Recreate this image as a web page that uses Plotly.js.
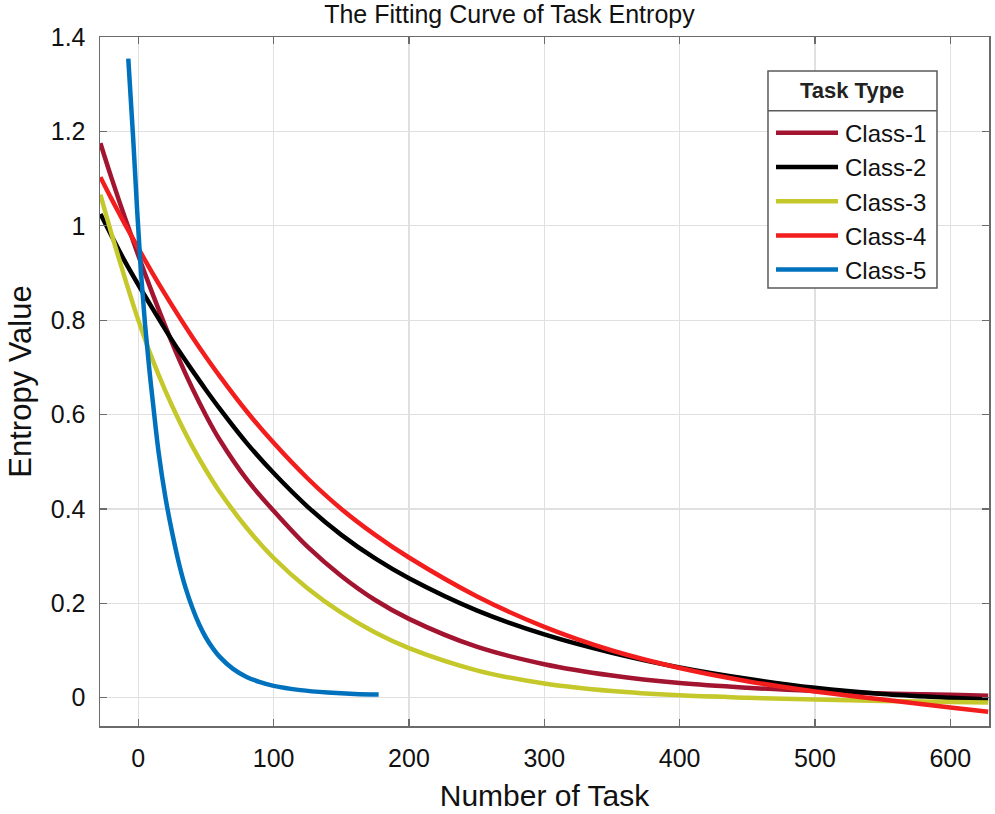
<!DOCTYPE html>
<html>
<head>
<meta charset="utf-8">
<script src="https://cdn.plot.ly/plotly-3.0.1.min.js"></script>
<style>html,body{margin:0;padding:0;background:#fff;}#chart{width:995px;height:814px;}</style>
</head>
<body>
<div id="chart"></div>
<script>
// Values
const xCommon = [-28, -20, -10, 0, 10, 20, 30, 40, 50, 60, 80, 100, 125, 150, 175, 200, 250, 300, 350, 400, 450, 500, 550, 600, 628];
const class1Y = [1.175, 1.103, 1.018, 0.937, 0.86, 0.787, 0.718, 0.655, 0.598, 0.547, 0.463, 0.396, 0.32, 0.258, 0.207, 0.167, 0.108, 0.071, 0.047, 0.031, 0.021, 0.014, 0.009, 0.006, 0.004];
const class2Y = [1.025, 0.98, 0.925, 0.875, 0.827, 0.78, 0.735, 0.693, 0.652, 0.613, 0.54, 0.476, 0.405, 0.345, 0.295, 0.253, 0.185, 0.134, 0.095, 0.064, 0.04, 0.021, 0.008, 0.0, -0.004];
const class3Y = [1.066, 0.985, 0.89, 0.80, 0.72, 0.65, 0.588, 0.532, 0.482, 0.437, 0.36, 0.296, 0.232, 0.18, 0.138, 0.105, 0.058, 0.03, 0.014, 0.005, 0.0, -0.004, -0.007, -0.009, -0.01];
const class4Y = [1.103, 1.058, 1.004, 0.952, 0.902, 0.854, 0.808, 0.764, 0.722, 0.682, 0.607, 0.54, 0.465, 0.40, 0.345, 0.297, 0.215, 0.15, 0.10, 0.063, 0.035, 0.013, -0.004, -0.021, -0.03];
const class5X = [-7.4, -4, -1, 2, 5, 8, 11, 15, 20, 25, 30, 35, 40, 45, 50, 55, 60, 70, 80, 90, 100, 120, 140, 160, 177.6];
const class5Y = [1.354, 1.195, 1.04, 0.90, 0.79, 0.70, 0.62, 0.52, 0.425, 0.35, 0.285, 0.232, 0.19, 0.155, 0.127, 0.105, 0.087, 0.061, 0.044, 0.033, 0.025, 0.016, 0.011, 0.008, 0.007];

const names = ['Class-1', 'Class-2', 'Class-3', 'Class-4', 'Class-5'];
const colors = ['#A2142F', '#000000', '#C5C82A', '#F21D1D', '#0072BD'];
const xTicks = [0, 100, 200, 300, 400, 500, 600];
const yTicks = [0, 0.2, 0.4, 0.6, 0.8, 1, 1.2, 1.4];
const legendTitle = 'Task Type';

const series = [
  [xCommon, class1Y], [xCommon, class2Y], [xCommon, class3Y], [xCommon, class4Y], [class5X, class5Y]
];
const traces = series.map((s, i) => ({
  x: s[0], y: s[1], name: names[i], type: 'scatter', mode: 'lines',
  line: {color: colors[i], width: 4.5, shape: 'spline', smoothing: 1}
}));

const FONT = 'Liberation Sans, Arial, Helvetica, sans-serif';
const axisCommon = {
  showline: true, linecolor: '#6b6b6b', linewidth: 1.5, mirror: 'ticks',
  ticks: 'inside', ticklen: 7, tickcolor: '#6b6b6b', tickwidth: 1.2,
  showgrid: true, gridcolor: '#e0e0e0', gridwidth: 1.2, zeroline: false,
  tickfont: {family: FONT, size: 25, color: '#111'}
};

// legend box geometry (paper coordinates)
const lgX0 = 0.7514, lgX1 = 0.9415, lgY0 = 0.6357, lgY1 = 0.9507, lgSep = 0.893;

const layout = {
  width: 995, height: 814,
  margin: {l: 100, r: 6, t: 37, b: 88},
  paper_bgcolor: '#fff', plot_bgcolor: '#fff',
  title: {text: 'The Fitting Curve of Task Entropy', font: {family: FONT, size: 25, color: '#111'},
          x: 0.512, xref: 'container', xanchor: 'center', y: 0.983, yref: 'container', yanchor: 'middle'},
  xaxis: Object.assign({}, axisCommon, {
    range: [-28.3, 628.6], tickvals: xTicks, ticktext: xTicks.map(String),
    ticklabelstandoff: 9,
    title: {text: 'Number of Task', font: {family: FONT, size: 30, color: '#111'}, standoff: 14}
  }),
  yaxis: Object.assign({}, axisCommon, {
    range: [-0.06, 1.4], tickvals: yTicks, ticktext: yTicks.map(String),
    ticklabelstandoff: 8,
    title: {text: 'Entropy Value', font: {family: FONT, size: 31, color: '#111'}, standoff: 10}
  }),
  shapes: [
    {type: 'rect', xref: 'paper', yref: 'paper', x0: lgX0, x1: lgX1, y0: lgY0, y1: lgY1,
     fillcolor: '#fff', line: {color: '#5a5a5a', width: 1.5}, layer: 'above'},
    {type: 'line', xref: 'paper', yref: 'paper', x0: lgX0, x1: lgX1, y0: lgSep, y1: lgSep,
     line: {color: '#5a5a5a', width: 1.5}, layer: 'above'}
  ],
  annotations: [
    {text: '<b>' + legendTitle + '</b>', xref: 'paper', yref: 'paper', x: (lgX0 + lgX1) / 2, y: (lgY1 + lgSep) / 2,
     xanchor: 'center', yanchor: 'middle', showarrow: false, font: {family: FONT, size: 22, color: '#222'}}
  ],
  showlegend: true,
  legend: {
    x: lgX0, xanchor: 'left', y: lgSep, yanchor: 'top',
    bgcolor: 'rgba(0,0,0,0)', borderwidth: 0,
    font: {family: FONT, size: 24, color: '#111'},
    itemwidth: 67, tracegroupgap: 0
  }
};

Plotly.newPlot('chart', traces, layout, {displayModeBar: false, staticPlot: true}).then(function (gd) {
  // lengthen the legend line samples to match the reference
  document.querySelectorAll('g.legendlines path').forEach(function (p) { p.setAttribute('d', 'M8,0h62'); });
});
</script>
</body>
</html>
